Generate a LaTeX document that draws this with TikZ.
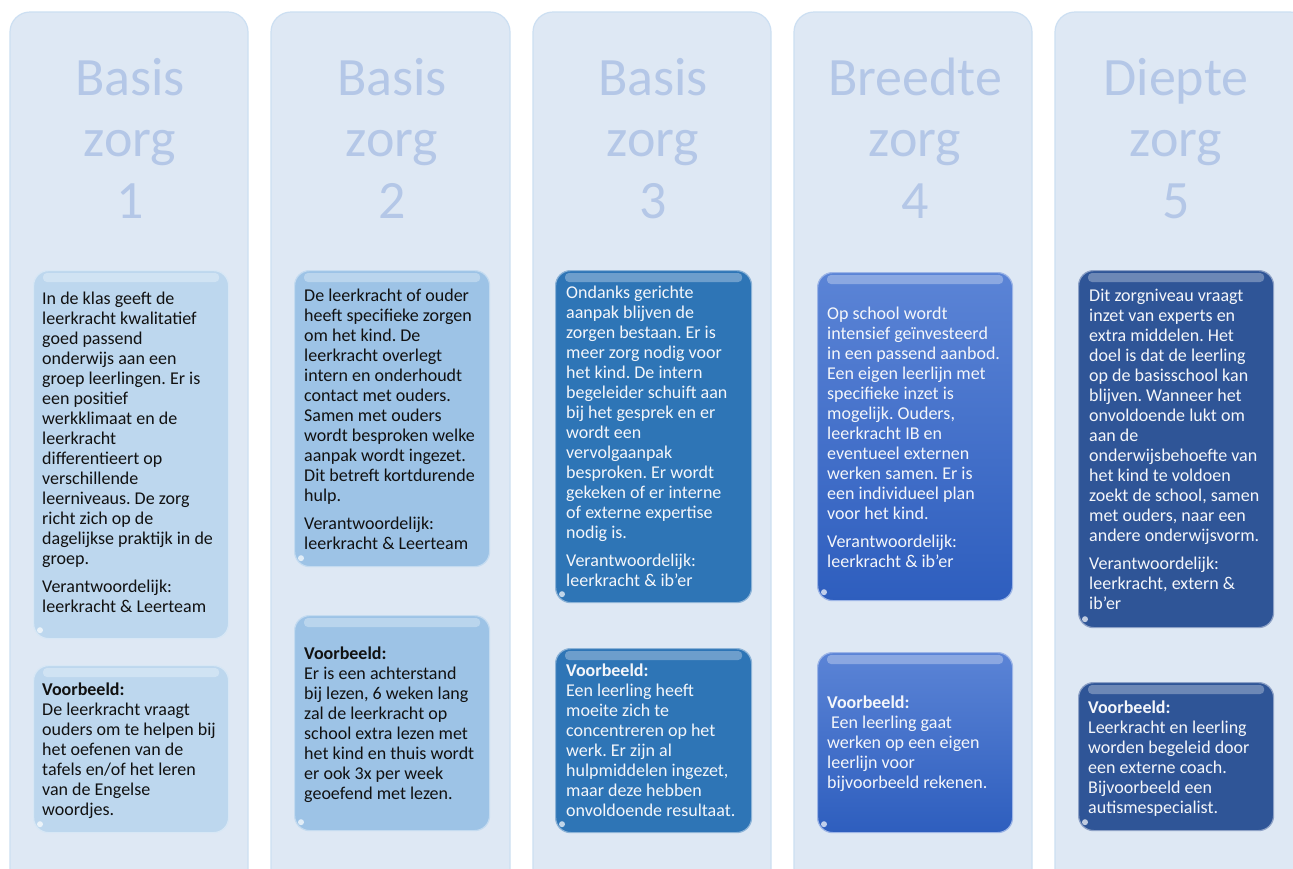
\documentclass[tikz,border=0pt]{standalone}
\usepackage{fontspec}
\setmainfont{Carlito}
\frenchspacing
\definecolor{colbg}{HTML}{DEE8F4}
\definecolor{colrim}{HTML}{CCDFF2}
\definecolor{titlec}{HTML}{B4C7E7}
\definecolor{cA}{HTML}{BDD7EE}
\definecolor{cB}{HTML}{9DC3E6}
\definecolor{cC}{HTML}{2E75B6}
\definecolor{cDtop}{HTML}{5B84D6}
\definecolor{cDbot}{HTML}{2E5EBE}
\definecolor{cE}{HTML}{2F5597}
\definecolor{darktext}{HTML}{111111}
\definecolor{lighttext}{HTML}{F4F6FA}
\tikzset{
  column/.style={fill=colbg, draw=colrim, line width=1.2pt, rounded corners=20pt},
  ttl/.style={anchor=base, align=center, inner sep=0pt, text=titlec, font=\fontsize{54}{61.5}\selectfont},
  card/.style={anchor=north west, inner sep=0pt, rounded corners=15pt, line width=1.2pt},
  cardA/.style={card, fill=cA, draw=cA!60!white},
  cardB/.style={card, fill=cB, draw=cB!60!white},
  cardC/.style={card, fill=cC, draw=cC!55!white},
  cardD/.style={card, top color=cDtop, bottom color=cDbot, draw=cDtop!60!white},
  cardE/.style={card, fill=cE, draw=cE!55!white},
  gloss/.style={fill=white, opacity=0.3, rounded corners=4pt},
  spot/.style={fill=white, opacity=0.7},
  txt/.style={anchor=base west, align=left, inner sep=0pt, font=\fontsize{18}{20}\selectfont},
  dtxt/.style={txt, text=darktext},
  ltxt/.style={txt, text=lighttext},
}
\newcommand{\glossy}[1]{%
  \fill[gloss] ([xshift=10pt,yshift=-3pt]#1.north west) rectangle ([xshift=-10pt,yshift=-12pt]#1.north east);
  \fill[spot] ([xshift=7pt,yshift=9pt]#1.south west) circle (3pt);
}
\begin{document}
\begin{tikzpicture}[x=1pt,y=-1pt]
\clip (0,0) rectangle (1293,868);
\fill[white] (0,0) rectangle (1293,868);

% columns
\draw[column] (10,12) rectangle (248,900);
\draw[column] (271,12) rectangle (510,900);
\draw[column] (533,12) rectangle (771,900);
\draw[column] (794,12) rectangle (1032,900);
\draw[column] (1055,12) rectangle (1310,900);

% titles (anchor base = baseline of last line)
\node[ttl] (t1) at (130,218) {Basis\\zorg\\1};
\node[ttl] (t2) at (392,218) {Basis\\zorg\\2};
\node[ttl] (t3) at (653,218) {Basis\\zorg\\3};
\node[ttl] (t4) at (915,218) {Breedte\\zorg\\4};
\node[ttl] (t5) at (1176,218) {Diepte\\zorg\\5};

% cards
\node[cardA, minimum width=195pt, minimum height=368pt] (a1) at (33,270) {};
\node[cardA, minimum width=195pt, minimum height=167pt] (a2) at (33,665) {};
\node[cardB, minimum width=195pt, minimum height=296pt] (b1) at (294,270) {};
\node[cardB, minimum width=195pt, minimum height=215pt] (b2) at (294,615) {};
\node[cardC, minimum width=196pt, minimum height=332pt] (c1) at (555,270) {};
\node[cardC, minimum width=196pt, minimum height=184pt] (c2) at (555,648) {};
\node[cardD, minimum width=195pt, minimum height=328pt] (d1) at (817,272) {};
\node[cardD, minimum width=195pt, minimum height=180pt] (d2) at (817,652) {};
\node[cardE, minimum width=195pt, minimum height=357pt] (e1) at (1078,270) {};
\node[cardE, minimum width=195pt, minimum height=148pt] (e2) at (1078,682) {};
\glossy{a1}\glossy{a2}\glossy{b1}\glossy{b2}\glossy{c1}\glossy{c2}\glossy{d1}\glossy{d2}\glossy{e1}\glossy{e2}

% texts (anchor base west = baseline of last line)
\node[dtxt] (a1t) at (42,612) {In de klas geeft de\\
leerkracht kwalitatief\\
goed passend\\
onderwijs aan een\\
groep leerlingen. Er is\\
een positief\\
werkklimaat en de\\
leerkracht\\
differentieert op\\
verschillende\\
leerniveaus. De zorg\\
richt zich op de\\
dagelijkse praktijk in de\\
groep.\\[8pt]
Verantwoordelijk:\\
leerkracht \& Leerteam};

\node[dtxt] (a2t) at (42,815) {\textbf{Voorbeeld:}\\
De leerkracht vraagt\\
ouders om te helpen bij\\
het oefenen van de\\
tafels en/of het leren\\
van de Engelse\\
woordjes.};

\node[dtxt] (b1t) at (304,549) {De leerkracht of ouder\\
heeft specifieke zorgen\\
om het kind. De\\
leerkracht overlegt\\
intern en onderhoudt\\
contact met ouders.\\
Samen met ouders\\
wordt besproken welke\\
aanpak wordt ingezet.\\
Dit betreft kortdurende\\
hulp.\\[8pt]
Verantwoordelijk:\\
leerkracht \& Leerteam};

\node[dtxt] (b2t) at (304,799) {\textbf{Voorbeeld:}\\
Er is een achterstand\\
bij lezen, 6 weken lang\\
zal de leerkracht op\\
school extra lezen met\\
het kind en thuis wordt\\
er ook 3x per week\\
geoefend met lezen.};

\node[ltxt] (c1t) at (566,586) {Ondanks gerichte\\
aanpak blijven de\\
zorgen bestaan. Er is\\
meer zorg nodig voor\\
het kind. De intern\\
begeleider schuift aan\\
bij het gesprek en er\\
wordt een\\
vervolgaanpak\\
besproken. Er wordt\\
gekeken of er interne\\
of externe expertise\\
nodig is.\\[8pt]
Verantwoordelijk:\\
leerkracht \& ib’er};

\node[ltxt] (c2t) at (566,816) {\textbf{Voorbeeld:}\\
Een leerling heeft\\
moeite zich te\\
concentreren op het\\
werk. Er zijn al\\
hulpmiddelen ingezet,\\
maar deze hebben\\
onvoldoende resultaat.};

\node[ltxt] (d1t) at (827,567) {Op school wordt\\
intensief geïnvesteerd\\
in een passend aanbod.\\
Een eigen leerlijn met\\
specifieke inzet is\\
mogelijk. Ouders,\\
leerkracht IB en\\
eventueel externen\\
werken samen. Er is\\
een individueel plan\\
voor het kind.\\[8pt]
Verantwoordelijk:\\
leerkracht \& ib’er};

\node[ltxt] (d2t) at (827,788) {\textbf{Voorbeeld:}\\
\hspace{4pt}Een leerling gaat\\
werken op een eigen\\
leerlijn voor\\
bijvoorbeeld rekenen.};

\node[ltxt] (e1t) at (1089,609) {Dit zorgniveau vraagt\\
inzet van experts en\\
extra middelen. Het\\
doel is dat de leerling\\
op de basisschool kan\\
blijven. Wanneer het\\
onvoldoende lukt om\\
aan de\\
onderwijsbehoefte van\\
het kind te voldoen\\
zoekt de school, samen\\
met ouders, naar een\\
andere onderwijsvorm.\\[8pt]
Verantwoordelijk:\\
leerkracht, extern \&\\
ib’er};

\node[ltxt] (e2t) at (1088,813) {\textbf{Voorbeeld:}\\
Leerkracht en leerling\\
worden begeleid door\\
een externe coach.\\
Bijvoorbeeld een\\
autismespecialist.};
\end{tikzpicture}
\end{document}
